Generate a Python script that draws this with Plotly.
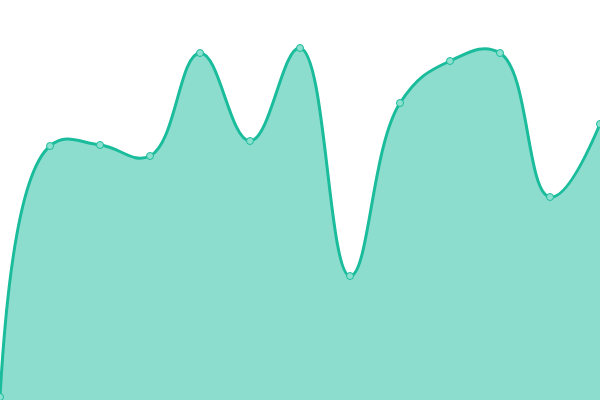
import plotly.graph_objects as go

x_vals = list(range(13))
y_vals = [3, 254, 255, 244, 347, 259, 352, 124, 297, 339, 347, 203, 276]

fig = go.Figure()
fig.add_trace(go.Scatter(
    x=x_vals, y=y_vals,
    mode="lines+markers",
    line=dict(shape="spline", smoothing=1.2, color="#1abc9c", width=3),
    fill="tozeroy",
    fillcolor="rgba(26,188,156,0.5)",
    marker=dict(size=7, color="#8ce0cf", line=dict(color="#1abc9c", width=1)),
    hoverinfo="skip",
    cliponaxis=False,
))
fig.update_layout(
    width=600, height=400,
    margin=dict(l=0, r=0, t=0, b=0),
    paper_bgcolor="white", plot_bgcolor="white",
    showlegend=False,
    xaxis=dict(range=[0, 12], visible=False, fixedrange=True),
    yaxis=dict(range=[0, 400], visible=False, fixedrange=True),
)
fig.write_html(
    "out.html",
    config={"displayModeBar": False},
    post_script="document.body.style.margin='0';document.body.style.overflow='hidden';",
)
